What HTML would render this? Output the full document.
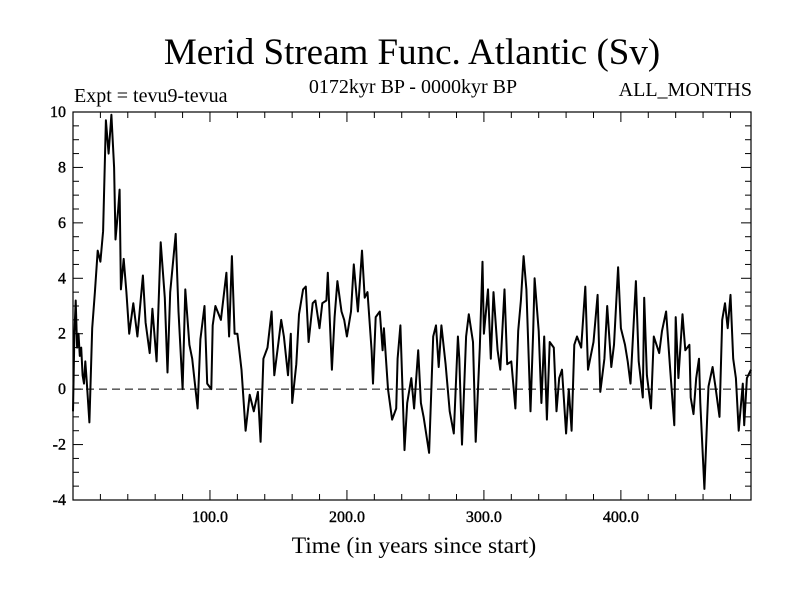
<!DOCTYPE html>
<html><head><meta charset="utf-8"><style>
body{margin:0;background:#fff}
svg text{font-family:"Liberation Serif",serif;fill:#000}
</style></head><body>
<svg id="chart" width="800" height="600">
<text x="412" y="64" font-size="37" text-anchor="middle">Merid Stream Func. Atlantic (Sv)</text>
<text x="74" y="102" font-size="20">Expt = tevu9-tevua</text>
<text x="413" y="93" font-size="20" text-anchor="middle">0172kyr BP - 0000kyr BP</text>
<text x="752" y="96" font-size="20" text-anchor="end">ALL_MONTHS</text>
<text x="414" y="553" font-size="23.5" text-anchor="middle">Time (in years since start)</text>
<g id="axes"></g>
<g id="series"></g>
<rect x="73" y="112" width="678" height="388" fill="none" stroke="#000" stroke-width="1.2"/>
</svg>
<script>
const years=[0,1,2,3,4,5,6,7,8,9,10,12,14,16,18,20,22,24,26,28,30,31,33,34,35,37,39,41,44,47,51,53,56,58,61,64,67,69,71,75,77,80,82,85,87,91,93,96,98,101,102,104,108,112,114,116,118,120,123,126,129,132,135,137,139,142,145,147,150,152,154,157,159,160,163,165,168,170,172,175,177,180,182,185,186,189,191,193,196,198,200,203,205,208,211,213,215,218,219,221,224,226,227,230,233,236,237,239,242,244,247,249,252,254,256,260,263,265,267,269,272,275,278,281,282,284,287,289,292,294,297,299,300,303,305,307,310,312,315,317,320,323,325,327,329,331,334,336,337,340,342,344,346,348,351,353,355,357,360,362,364,366,368,371,372,374,376,380,383,385,388,390,393,395,398,400,403,405,407,411,413,416,417,419,422,424,428,430,433,436,439,440,442,445,447,450,451,453,455,457,458,461,463,464,467,469,472,474,476,478,480,482,484,486,489,490,492,495];
const values=[-0.8,2,3.2,1.5,2,1.2,1.5,0.5,0.2,1,0.3,-1.2,2.2,3.5,5,4.6,5.7,9.7,8.5,9.9,8,5.4,6.5,7.2,3.6,4.7,3.5,2,3.1,1.9,4.1,2.4,1.3,2.9,1,5.3,3.3,0.6,3.5,5.6,2.8,0,3.6,1.6,1.1,-0.7,1.8,3,0.2,0,2.3,3,2.5,4.2,1.9,4.8,2,2,0.7,-1.5,-0.2,-0.8,-0.1,-1.9,1.1,1.5,2.8,0.5,1.7,2.5,1.9,0.5,2,-0.5,0.9,2.7,3.6,3.7,1.7,3.1,3.2,2.2,3.1,3.2,4.2,0.7,2.6,3.9,2.8,2.5,1.9,2.8,4.5,2.8,5,3.3,3.5,1.4,0.2,2.6,2.8,1.4,2.2,0,-1.1,-0.7,1.1,2.3,-2.2,-0.5,0.4,-0.7,1.4,-0.5,-1,-2.3,1.9,2.3,0.8,2.3,0.9,-0.8,-1.6,1.9,1.1,-2,1.9,2.7,1.7,-1.9,1.5,4.6,2,3.6,1.1,3.5,1.4,0.7,3.6,0.9,1,-0.7,2.1,3.2,4.8,3.6,-0.8,2.1,4,2.1,-0.5,1.9,-1.1,1.7,1.5,-0.8,0.4,0.7,-1.6,0,-1.5,1.6,1.9,1.5,2.2,3.7,0.7,1.7,3.4,-0.1,1.1,3,0.8,1.6,4.4,2.2,1.6,1,0.2,3.9,1,-0.3,3.3,0.5,-0.7,1.9,1.3,2.1,2.8,0.7,-1.3,2.6,0.4,2.7,1.4,1.6,-0.3,-0.9,0.4,1.1,-0.5,-3.6,-1,0.1,0.8,0.1,-1,2.5,3.1,2.2,3.4,1.1,0.4,-1.5,0.2,-1.3,0.4,0.7];
const yTicks=[-4,-2,0,2,4,6,8,10];
const xTicks=[100,200,300,400];
const xTickLabels=["100.0","200.0","300.0","400.0"];
const NS="http://www.w3.org/2000/svg";
const X0=73,X1=751,Y0=500,Y1=112,XMIN=0,XMAX=495,YMIN=-4,YMAX=10;
function xs(v){return X0+(v-XMIN)/(XMAX-XMIN)*(X1-X0);}
function ys(v){return Y0-(v-YMIN)/(YMAX-YMIN)*(Y0-Y1);}
function mk(tag,attrs,parent){const e=document.createElementNS(NS,tag);for(const k in attrs)e.setAttribute(k,attrs[k]);parent.appendChild(e);return e;}
const axes=document.getElementById('axes');
const zl=mk('line',{x1:X0,x2:X1,y1:ys(0),y2:ys(0),stroke:'#000','stroke-width':1,'stroke-dasharray':'8,5'},axes);


for(let v=YMIN;v<=YMAX+0.001;v+=0.5){
  const major=Math.abs(v-Math.round(v/2)*2)<0.001;
  const len=major?10:6;const y=ys(v);
  const t1=mk('line',{x1:X0,x2:X0+len,y1:y,y2:y,stroke:'#000'},axes);
  
  
  const t2=mk('line',{x1:X1,x2:X1-len,y1:y,y2:y,stroke:'#000'},axes);
  
  
}
yTicks.forEach(v=>{
  const t=mk('text',{x:66,y:ys(v)+5,'font-size':16,stroke:'#000','stroke-width':0.4,'text-anchor':'end'},axes);
  t.textContent=String(v);
  
  
});
for(let v=20;v<XMAX;v+=20){
  const major=v%100===0;const len=major?10:6;const x=xs(v);
  const t1=mk('line',{x1:x,x2:x,y1:Y0,y2:Y0-len,stroke:'#000'},axes);
  
  
  const t2=mk('line',{x1:x,x2:x,y1:Y1,y2:Y1+len,stroke:'#000'},axes);
  
  
}
xTicks.forEach((v,i)=>{
  const t=mk('text',{x:xs(v),y:522,'font-size':16,stroke:'#000','stroke-width':0.4,'text-anchor':'middle'},axes);
  t.textContent=xTickLabels[i];
  
  
});
const pts=years.map((yr,i)=>xs(yr).toFixed(1)+','+ys(values[i]).toFixed(1)).join(' ');
const line=mk('polyline',{points:pts,fill:'none',stroke:'#000','stroke-width':2,'stroke-linejoin':'round'},document.getElementById('series'));


</script>
</body></html>
